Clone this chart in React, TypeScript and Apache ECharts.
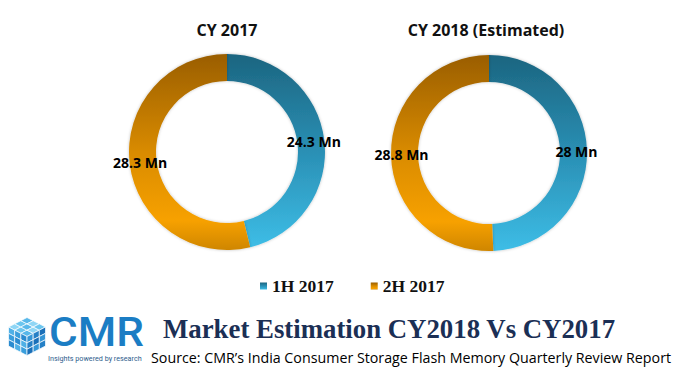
import React, { useEffect, useRef } from "react";
import * as echarts from "echarts";

const categories = ["1H 2017", "2H 2017"];
const cy2017Values = [24.3, 28.3];
const cy2018Values = [28.0, 28.8];
const pieTitles = ["CY 2017", "CY 2018 (Estimated)"];
const mainTitle = "Market Estimation CY2018 Vs CY2017";
const sourceText = "Source: CMR\u2019s India Consumer Storage Flash Memory Quarterly Review Report";

function cubeLogo(cx: number, cy: number, hx: number, hy: number) {
  const top = [cx, cy - hy];
  const ur = [cx + hx, cy - hy / 2];
  const bot = [cx, cy + hy];
  const ll = [cx - hx, cy + hy / 2];
  const ul = [cx - hx, cy - hy / 2];
  const c = [cx, cy];
  const faces = [
    { p0: ul, p1: top, p3: c, colors: ["#8fd6f5", "#6cc6ef", "#58b8ea"] },
    { p0: ul, p1: c, p3: ll, colors: ["#4fb0e6", "#3a9edc", "#2a8bd0"] },
    { p0: c, p1: ur, p3: bot, colors: ["#3596d6", "#2580c6", "#1a6fb8"] },
  ];
  const els: any[] = [];
  faces.forEach((f) => {
    const ax = f.p1[0] - f.p0[0], ay = f.p1[1] - f.p0[1];
    const bx = f.p3[0] - f.p0[0], by = f.p3[1] - f.p0[1];
    for (let i = 0; i < 3; i++) {
      for (let j = 0; j < 3; j++) {
        const pt = (u: number, v: number) => [f.p0[0] + ax * u + bx * v, f.p0[1] + ay * u + by * v];
        const u0 = i / 3, u1 = (i + 1) / 3, v0 = j / 3, v1 = (j + 1) / 3;
        els.push({
          type: "polygon",
          shape: { points: [pt(u0, v0), pt(u1, v0), pt(u1, v1), pt(u0, v1)] },
          style: { fill: f.colors[(i + j) % 3], stroke: "#ffffff", lineWidth: 0.7 },
          silent: true,
        });
      }
    }
  });
  return els;
}

function textEl(text: string, x: number, y: number, style: any, extra: any = {}) {
  return {
    type: "text",
    x,
    y,
    silent: true,
    ...extra,
    style: {
      text,
      align: style.align || "left",
      textAlign: style.align || "left",
      verticalAlign: "middle",
      textVerticalAlign: "middle",
      ...style,
    },
  };
}

export default function App() {
  const ref = useRef<HTMLDivElement>(null);
  useEffect(() => {
    if (!ref.current) return;
    const chart = echarts.init(ref.current, null, { renderer: "svg" });
    const blue = new echarts.graphic.LinearGradient(0, 0, 0, 1, [
      { offset: 0, color: "#1c6580" },
      { offset: 0.5, color: "#2a8fb4" },
      { offset: 1, color: "#3dbde6" },
    ]);
    const orange = new echarts.graphic.LinearGradient(0, 0, 0, 1, [
      { offset: 0, color: "#9a5e00" },
      { offset: 0.5, color: "#d98b00" },
      { offset: 0.85, color: "#f7a100" },
      { offset: 1, color: "#cf8600" },
    ]);
    const colors = [blue, orange];
    const mkSeries = (center: number[], values: number[]) => ({
      type: "pie",
      center,
      radius: [71, 98],
      startAngle: 90,
      clockwise: true,
      silent: true,
      emphasis: { disabled: true },
      itemStyle: { shadowBlur: 3, shadowColor: "rgba(0,0,0,0.25)" },
      label: {
        show: true,
        position: "inside",
        formatter: (p: any) => `${p.value} Mn`,
        fontFamily: "Open Sans",
        fontWeight: "bold",
        fontSize: 14,
        color: "#000000",
      },
      labelLine: { show: false },
      data: values.map((v, i) => ({ name: categories[i], value: v, itemStyle: { color: colors[i] } })),
    });
    chart.setOption({
      animation: false,
      backgroundColor: "#ffffff",
      legend: {
        data: categories,
        left: 255,
        top: 272,
        icon: "rect",
        itemWidth: 7,
        itemHeight: 7,
        itemGap: 37,
        selectedMode: false,
        textStyle: { fontFamily: "Liberation Serif", fontWeight: "bold", fontSize: 17.5, color: "#111111" },
      },
      series: [mkSeries([227, 152], cy2017Values), mkSeries([489, 153], cy2018Values)],
      graphic: [
        textEl(pieTitles[0], 227, 30, { align: "center", font: "bold 16px 'Open Sans'", fill: "#111111" }),
        textEl(pieTitles[1], 486, 30, { align: "center", font: "bold 16px 'Open Sans'", fill: "#111111" }),
        ...cubeLogo(27, 336.5, 18.5, 19),
        textEl("CMR", 49, 332, { font: "500 40px Roboto", fill: "#1b7dc4" }, { scaleX: 1.1 }),
        textEl("Insights powered by research", 48, 358, { font: "8px Roboto", fill: "#2d5d8c" }, { scaleX: 0.9 }),
        textEl(mainTitle, 163, 329, { font: "bold 26.8px 'Liberation Serif'", fill: "#1b2f55" }),
        textEl(sourceText, 151, 357, { font: "14.25px 'Open Sans'", fill: "#000000" }),
      ],
    });
    return () => chart.dispose();
  }, []);
  return <div ref={ref} style={{ position: "fixed", left: 0, top: 0, width: 691, height: 375 }} />;
}
